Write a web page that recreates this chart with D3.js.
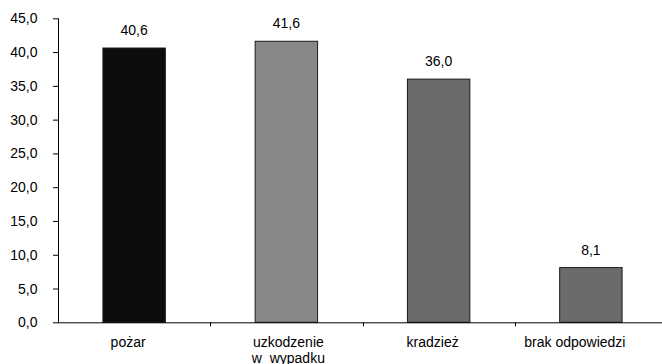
<!DOCTYPE html>
<html><head><meta charset="utf-8">
<script src="https://cdn.jsdelivr.net/npm/d3@7"></script>
<style>body{margin:0;background:#fff}svg{display:block}text{font-family:"Liberation Sans",Arial,sans-serif;font-size:14px;fill:#000}</style>
</head><body><svg id="c" width="662" height="364"></svg>
<script>
const categories = ["pożar", "uzkodzenie\nw  wypadku", "kradzież", "brak odpowiedzi"];
const values = [40.6, 41.6, 36.0, 8.1];
const colors = ["#0d0d0d", "#888888", "#6b6b6b", "#6b6b6b"];
const yTicks = [0, 5, 10, 15, 20, 25, 30, 35, 40, 45];

const svg = d3.select("#c");
const x0 = 58, x1 = 667, yTop = 18.3, yBot = 322.3;
const labelShift = [-6, 2, -6, -16];
const x = d3.scaleBand().domain(categories).range([x0, x1]).paddingInner(0).paddingOuter(0);
const y = d3.scaleLinear().domain([0, 45]).range([yBot, yTop]);
const fmt = v => v.toFixed(1).replace(".", ",");
const bw = x.bandwidth() * 0.41;

// y axis
const ya = svg.append("g").attr("transform", `translate(${x0},0)`)
  .call(d3.axisLeft(y).tickValues(yTicks).tickFormat(fmt).tickSize(5).tickPadding(15.5));
ya.select(".domain").attr("stroke", "#000").attr("d", `M0.5,${yTop}V${yBot}`);
ya.selectAll(".tick line").attr("stroke", "#000");
ya.selectAll(".tick text").style("font-size", "14px").attr("fill", "#000").style("font-family", "'Liberation Sans',Arial,sans-serif");

// bars
svg.selectAll("rect.bar").data(categories).enter().append("rect")
  .attr("class", "bar")
  .attr("x", d => x(d) + (x.bandwidth() - bw) / 2)
  .attr("width", bw)
  .attr("y", (d, i) => y(values[i]))
  .attr("height", (d, i) => y(0) - y(values[i]))
  .attr("fill", (d, i) => colors[i])
  .attr("stroke", "#1a1a1a").attr("stroke-width", 1);

// x axis
svg.append("line").attr("x1", x0).attr("x2", 662).attr("y1", yBot + 0.5).attr("y2", yBot + 0.5).attr("stroke", "#000");
svg.selectAll("line.xt").data(categories.slice(1)).enter().append("line")
  .attr("x1", d => Math.round(x(d)) + 0.5).attr("x2", d => Math.round(x(d)) + 0.5)
  .attr("y1", yBot).attr("y2", yBot + 4).attr("stroke", "#000");

// value labels
svg.selectAll("text.val").data(categories).enter().append("text")
  .attr("x", d => x(d) + x.bandwidth() / 2)
  .attr("y", (d, i) => y(values[i]) - 13)
  .attr("text-anchor", "middle")
  .text((d, i) => fmt(values[i]));

// category labels
const cl = svg.selectAll("text.cat").data(categories).enter().append("text")
  .attr("text-anchor", "middle")
  .attr("y", 347);
cl.each(function(d, i) {
  const lines = d.split("\n");
  const t = d3.select(this);
  const cx = x(d) + x.bandwidth() / 2 + labelShift[i];
  lines.forEach((l, k) => t.append("tspan").attr("x", cx).attr("dy", k ? 16 : 0).style("white-space", "pre").text(l));
});
</script></body></html>
